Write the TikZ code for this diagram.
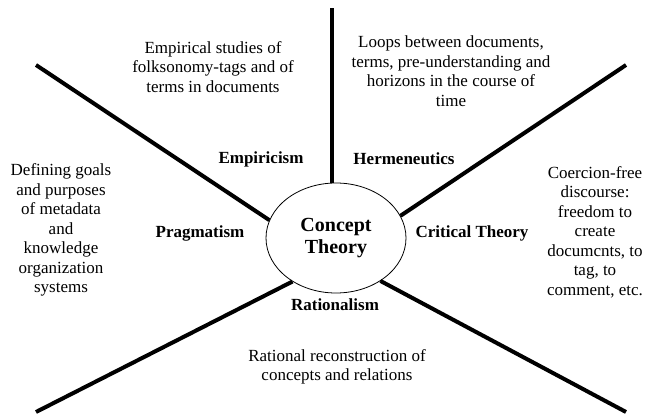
\documentclass[tikz,border=0pt]{standalone}
\usepackage{fontspec}
\setmainfont{Liberation Serif}
\usetikzlibrary{shapes.geometric}

\begin{document}
\begin{tikzpicture}[x=1pt, y=-1pt,
    spoke/.style={line width=4pt},
    note/.style={align=center, inner sep=0pt, font=\fontsize{17}{19.5}\selectfont},
    school/.style={inner sep=0pt, font=\fontsize{17}{20}\selectfont\bfseries}]
\useasboundingbox (0,0) rectangle (645,415);
% centre
\node[draw, ellipse, line width=0.8pt, minimum width=140pt, minimum height=110pt,
      inner sep=0pt, align=center, font=\fontsize{20}{22}\selectfont\bfseries]
      (ct) at (336,238) {Concept\\Theory};
% free ends of the spokes
\coordinate (top) at (332,8);
\coordinate (ul) at (36,65);
\coordinate (ur) at (626,65);
\coordinate (ll) at (36,412);
\coordinate (lr) at (626,412);
\draw[spoke] (top) -- (top |- ct.north);
\foreach \a/\p in {165/ul, 19/ur, 225/ll, 316/lr}
    \draw[spoke] (ct.\a) -- (\p);
% schools
\node[school] (emp) at (261,159) {Empiricism};
\node[school] (her) at (404,159) {Hermeneutics};
\node[school] (pra) at (200,233) {Pragmatism};
\node[school] (cri) at (472,233) {Critical Theory};
\node[school] (rat) at (335,305) {Rationalism};
% notes
\node[note] (emp-t) at (213,67) {Empirical studies of\\folksonomy-tags and of\\terms in documents};
\node[note] (her-t) at (451,71) {Loops between documents,\\terms, pre-understanding and\\horizons in the course of\\time};
\node[note] (pra-t) at (61,230) {Defining goals\\and purposes\\of metadata\\and\\knowledge\\organization\\systems};
\node[note] (cri-t) at (595,232) {Coercion-free\\discourse:\\freedom to\\create\\documcnts, to\\tag, to\\comment, etc.};
\node[note] (rat-t) at (337,367) {Rational reconstruction of\\concepts and relations};
\end{tikzpicture}
\end{document}
